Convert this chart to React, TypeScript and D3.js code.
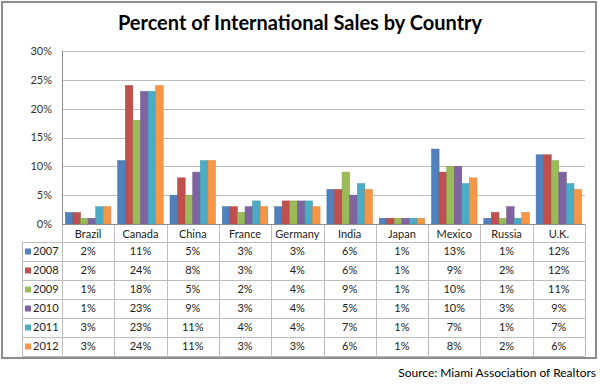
import * as d3 from "d3";
import { useEffect, useRef } from "react";

const countries = ["Brazil", "Canada", "China", "France", "Germany", "India", "Japan", "Mexico", "Russia", "U.K."];
const years = ["2007", "2008", "2009", "2010", "2011", "2012"];
const values2007 = [2, 11, 5, 3, 3, 6, 1, 13, 1, 12];
const values2008 = [2, 24, 8, 3, 4, 6, 1, 9, 2, 12];
const values2009 = [1, 18, 5, 2, 4, 9, 1, 10, 1, 11];
const values2010 = [1, 23, 9, 3, 4, 5, 1, 10, 3, 9];
const values2011 = [3, 23, 11, 4, 4, 7, 1, 7, 1, 7];
const values2012 = [3, 24, 11, 3, 3, 6, 1, 8, 2, 6];
const yTicks = [0, 5, 10, 15, 20, 25, 30];
const colors = ["#4F81BD", "#C0504D", "#9BBB59", "#8064A2", "#4BACC6", "#F79646"];

const seriesValues = [values2007, values2008, values2009, values2010, values2011, values2012];

const width = 600;
const height = 384;
const font = "Lato, 'Open Sans', sans-serif";

export default function App() {
  const svgRef = useRef<SVGSVGElement | null>(null);

  useEffect(() => {
    const svg = d3.select(svgRef.current);
    svg.selectAll("*").remove();

    const plot = { left: 62, right: 585, top: 51, bottom: 224 };
    const tableLeft = 22;
    const rowH = 19;
    const headerH = 18;

    // outer frame
    svg.append("rect")
      .attr("x", 2).attr("y", 2)
      .attr("width", 594).attr("height", 356)
      .attr("fill", "#fff")
      .attr("stroke", "#8c8c8c")
      .attr("stroke-width", 2);

    svg.append("text")
      .attr("x", 300).attr("y", 30)
      .attr("text-anchor", "middle")
      .style("font-family", font)
      .style("font-size", "20px")
      .style("font-weight", "700")
      .attr("fill", "#000")
      .text("Percent of International Sales by Country");

    const x = d3.scaleBand().domain(countries).range([plot.left, plot.right]);
    const y = d3.scaleLinear().domain([0, 30]).range([plot.bottom, plot.top]);
    const xInner = d3.scaleBand().domain(years).range([0, x.bandwidth()]).paddingOuter(0.45).paddingInner(0);

    // gridlines
    svg.append("g")
      .selectAll("line")
      .data(yTicks)
      .join("line")
      .attr("x1", plot.left).attr("x2", plot.right)
      .attr("y1", (d) => Math.round(y(d)) + 0.5)
      .attr("y2", (d) => Math.round(y(d)) + 0.5)
      .attr("stroke", "#bdbdbd");

    svg.append("line")
      .attr("x1", plot.left + 0.5).attr("x2", plot.left + 0.5)
      .attr("y1", plot.top).attr("y2", plot.bottom)
      .attr("stroke", "#8c8c8c");

    svg.append("g")
      .selectAll("text")
      .data(yTicks)
      .join("text")
      .attr("x", 52)
      .attr("y", (d) => y(d))
      .attr("dy", "0.35em")
      .attr("text-anchor", "end")
      .style("font-family", font)
      .style("font-size", "11px")
      .attr("fill", "#333")
      .text((d) => `${d}%`);

    // bars
    const bars = svg.append("g");
    seriesValues.forEach((vals, si) => {
      bars.append("g")
        .selectAll("rect")
        .data(vals)
        .join("rect")
        .attr("x", (_, i) => (x(countries[i]) ?? 0) + (xInner(years[si]) ?? 0))
        .attr("y", (d) => y(d))
        .attr("width", xInner.bandwidth())
        .attr("height", (d) => plot.bottom - y(d))
        .attr("fill", colors[si])
        .attr("stroke", d3.color(colors[si])!.darker(0.4).toString())
        .attr("stroke-width", 0.5);
    });

    // table
    const tableTop = plot.bottom + headerH;
    const tableBottom = tableTop + rowH * years.length;
    const grid = svg.append("g").attr("stroke", "#bdbdbd").attr("shape-rendering", "crispEdges");

    // vertical lines
    const vx = countries.map((c) => x(c) ?? 0).concat([plot.right]);
    grid.selectAll("line.v")
      .data(vx)
      .join("line")
      .attr("class", "v")
      .attr("x1", (d) => Math.round(d) + 0.5).attr("x2", (d) => Math.round(d) + 0.5)
      .attr("y1", plot.bottom).attr("y2", tableBottom);
    grid.append("line")
      .attr("x1", tableLeft + 0.5).attr("x2", tableLeft + 0.5)
      .attr("y1", tableTop).attr("y2", tableBottom);

    // horizontal lines
    const hy = d3.range(years.length + 1).map((i) => tableTop + i * rowH);
    grid.selectAll("line.h")
      .data(hy)
      .join("line")
      .attr("class", "h")
      .attr("x1", tableLeft).attr("x2", plot.right)
      .attr("y1", (d) => d + 0.5).attr("y2", (d) => d + 0.5);

    svg.append("line")
      .attr("x1", plot.left).attr("x2", plot.right)
      .attr("y1", plot.bottom + 0.5).attr("y2", plot.bottom + 0.5)
      .attr("stroke", "#8c8c8c");

    svg.append("g")
      .selectAll("text")
      .data(countries)
      .join("text")
      .attr("x", (d) => (x(d) ?? 0) + x.bandwidth() / 2)
      .attr("y", plot.bottom + headerH / 2 + 1)
      .attr("dy", "0.35em")
      .attr("text-anchor", "middle")
      .style("font-family", font)
      .style("font-size", "11px")
      .attr("fill", "#222")
      .text((d) => d);

    years.forEach((yr, si) => {
      const rowY = tableTop + si * rowH + rowH / 2;
      const row = svg.append("g");
      row.append("rect")
        .attr("x", 25).attr("y", rowY - 3)
        .attr("width", 6).attr("height", 6)
        .attr("fill", colors[si]);
      row.append("text")
        .attr("x", 33).attr("y", rowY)
        .attr("dy", "0.35em")
        .style("font-family", font)
        .style("font-size", "11px")
        .attr("fill", "#222")
        .text(yr);
      row.selectAll("text.v")
        .data(seriesValues[si])
        .join("text")
        .attr("class", "v")
        .attr("x", (_, i) => (x(countries[i]) ?? 0) + x.bandwidth() / 2)
        .attr("y", rowY)
        .attr("dy", "0.35em")
        .attr("text-anchor", "middle")
        .style("font-family", font)
        .style("font-size", "11px")
        .attr("fill", "#222")
        .text((d) => `${d}%`);
    });

    svg.append("text")
      .attr("x", 596).attr("y", 377)
      .attr("text-anchor", "end")
      .style("font-family", font)
      .style("font-size", "12px")
      .attr("fill", "#000")
      .text("Source: Miami Association of Realtors");
  }, []);

  return (
    <svg
      ref={svgRef}
      width={width}
      height={height}
      style={{ position: "absolute", left: 0, top: 0, background: "#fff" }}
    ></svg>
  );
}
